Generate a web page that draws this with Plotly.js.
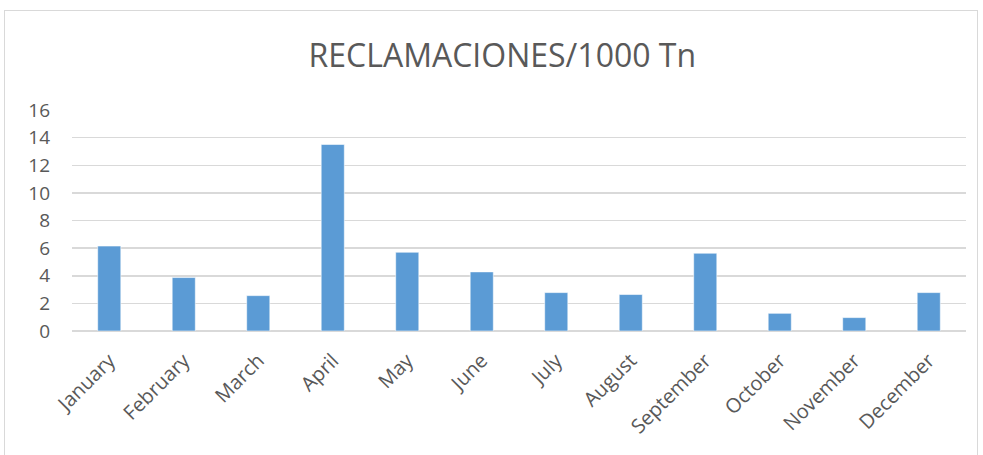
<!DOCTYPE html>
<html>
<head>
<meta charset="utf-8">
<script src="https://cdn.plot.ly/plotly-3.0.1.min.js"></script>
<style>
  html, body { margin: 0; padding: 0; background: #ffffff; }
  #wrap { position: relative; width: 983px; height: 455px; overflow: hidden; }
  #frame { position: absolute; left: 4px; top: 10px; width: 974px; height: 470px; border: 1px solid #d9d9d9; box-sizing: border-box; }
  #chart { position: absolute; left: 0; top: 0; width: 983px; height: 455px; }
</style>
</head>
<body>
<div id="wrap">
  <div id="frame"></div>
  <div id="chart"></div>
</div>
<script>
const months = ["January","February","March","April","May","June","July","August","September","October","November","December"];
const values = [6.15, 3.87, 2.56, 13.5, 5.7, 4.28, 2.78, 2.64, 5.63, 1.28, 0.97, 2.78];
const yTicks = [0, 2, 4, 6, 8, 10, 12, 14, 16];
const chartTitle = "RECLAMACIONES/1000 Tn";

const trace = {
  type: "bar",
  x: months,
  y: values,
  marker: { color: "#5b9bd5", line: { color: "rgba(255,255,255,0.55)", width: 1 } },
  hoverinfo: "x+y"
};

const layout = {
  width: 983,
  height: 455,
  paper_bgcolor: "rgba(0,0,0,0)",
  plot_bgcolor: "rgba(0,0,0,0)",
  margin: { l: 72, r: 17, t: 110, b: 124 },
  bargap: 0.69,
  showlegend: false,
  font: { family: "Open Sans, sans-serif", color: "#595959" },
  title: {
    text: chartTitle,
    font: { family: "Open Sans, sans-serif", size: 32, color: "#595959" },
    x: 0.511, xanchor: "center",
    y: 0.878, yanchor: "middle"
  },
  xaxis: {
    type: "category",
    tickangle: -45,
    tickfont: { size: 20, color: "#595959" },
    showgrid: false,
    showline: false,
    ticks: "",
    zeroline: false,
    ticklabelstandoff: 13
  },
  yaxis: {
    range: [0, 16],
    tickvals: yTicks,
    ticktext: yTicks.map(String),
    tickfont: { size: 19, color: "#595959" },
    showgrid: true,
    gridcolor: "#d9d9d9",
    gridwidth: 1.5,
    zeroline: true,
    zerolinecolor: "#d9d9d9",
    zerolinewidth: 1.5,
    showline: false,
    ticks: "",
    ticklabelstandoff: 21
  }
};

Plotly.newPlot("chart", [trace], layout, { displayModeBar: false, staticPlot: true });
</script>
</body>
</html>
